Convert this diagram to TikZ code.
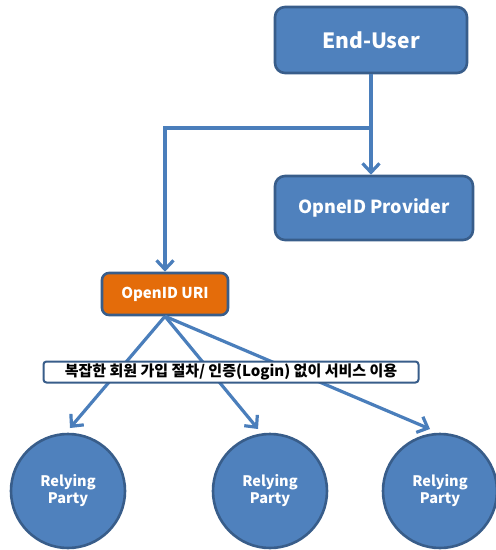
\documentclass[tikz,border=0pt]{standalone}
\usepackage{fontspec}
\setmainfont{Noto Sans CJK KR}
\usetikzlibrary{arrows.meta}
\definecolor{boxfill}{HTML}{4F81BD}
\definecolor{boxline}{HTML}{385D8A}
\definecolor{linkline}{HTML}{4A7EBB}
\definecolor{urifill}{HTML}{E46C0A}
\tikzset{
  actor/.style={draw=boxline, line width=2.6pt, fill=boxfill, rounded corners=10pt,
    text=white, font=\bfseries, inner sep=0pt},
  party/.style={circle, draw=boxline, line width=2.6pt, fill=boxfill, text=white,
    font=\bfseries\fontsize{14.5}{17}\selectfont, align=center, minimum size=114pt, inner sep=0pt},
  flow/.style={draw=linkline, line width=3.2pt, -{Straight Barb[length=9pt,width=17pt,line width=3.2pt]}},
  link/.style={draw=linkline, line width=3.2pt},
}
\begin{document}
\begin{tikzpicture}[x=1pt,y=-1pt]
\useasboundingbox (0,0) rectangle (496,550);
% top row: user and provider
\node[actor, minimum width=192pt, minimum height=66pt, font=\bfseries\fontsize{21}{24}\selectfont] (eu) at (371,40) {End-User};
\node[actor, minimum width=198pt, minimum height=64pt, font=\bfseries\fontsize{18}{21}\selectfont] (op) at (374,208) {OpneID Provider};
\node[actor, fill=urifill, minimum width=126pt, minimum height=42pt, rounded corners=7pt, font=\bfseries\fontsize{15}{18}\selectfont] (uri) at (165,294) {OpenID URI};
% relying parties
\node[party] (rp1) at (68,491) {Relying\\Party};
\node[party] (rp2) at (270,491) {Relying\\Party};
\node[party] (rp3) at (440,491) {Relying\\Party};
% connectors
\coordinate (split) at (eu.south |- 0,128);
\coordinate (corner) at (uri.north |- 0,128);
\draw[flow] (eu.south) -- (eu.south |- op.north);
\draw[link, line cap=rect] (split) -- (corner);
\draw[flow] (corner) -- (uri.north);
\coordinate (t1) at (70,428);
\coordinate (t2) at (258,429);
\coordinate (t3) at (430,429);
\draw[flow] (uri.south) -- (t1);
\draw[flow] (uri.south) -- (t2);
\draw[flow] (uri.south) -- (t3);
% benefit label over the links
\node[draw=boxline, line width=2pt, fill=white, rounded corners=3pt, minimum width=375pt, minimum height=21pt, inner sep=0pt,
  font=\bfseries\fontsize{15}{17}\selectfont] (lbl) at (231,372) {복잡한 회원 가입 절차/ 인증(Login) 없이 서비스 이용};
\end{tikzpicture}
\end{document}
